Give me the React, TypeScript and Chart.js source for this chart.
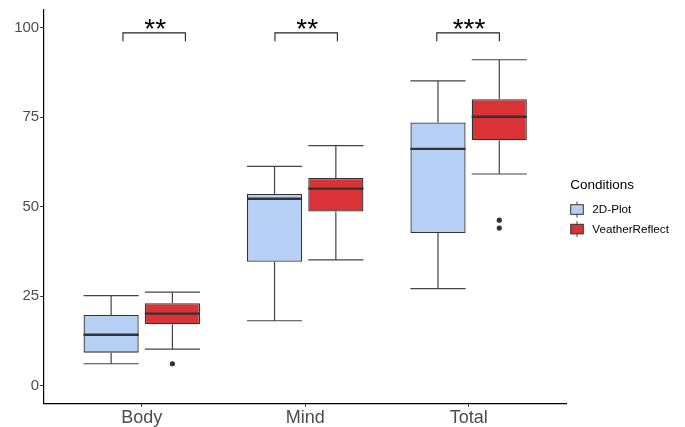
import React, { useEffect, useRef } from 'react';
import { Chart, registerables } from 'chart.js';
Chart.register(...registerables);

const categories = ['Body', 'Mind', 'Total'];
const seriesNames = ['2D-Plot', 'VeatherReflect'];
const seriesColors = ['#B6CFF5', '#DA3337'];

const plotMin = [6.1, 18.1, 27.1];
const plotQ1 = [9.2, 34.6, 42.6];
const plotMedian = [14.2, 52.2, 66.1];
const plotQ3 = [19.7, 53.5, 73.5];
const plotMax = [25.1, 61.2, 85.1];
const plotOutliers: number[][] = [[], [], []];

const vrMin = [10.2, 35.1, 59.1];
const vrQ1 = [17.1, 48.6, 68.5];
const vrMedian = [20.1, 55.0, 75.1];
const vrQ3 = [23.0, 58.0, 80.0];
const vrMax = [26.1, 67.0, 91.0];
const vrOutliers: number[][] = [[6.1], [], [46.2, 44.0]];

const yTicks = [0, 25, 50, 75, 100];

const sigLabels = ['**', '**', '***'];
const sigStart = [0.885, 1.815, 2.805];
const sigEnd = [1.267, 2.197, 3.188];
const sigTop = 98.5;
const sigTip = 96.2;
const sigText = 97.2;

const DODGE = 0.75;
const FONT = "'Liberation Sans', Arial, Helvetica, sans-serif";

const stats = [
  { min: plotMin, q1: plotQ1, med: plotMedian, q3: plotQ3, max: plotMax, out: plotOutliers },
  { min: vrMin, q1: vrQ1, med: vrMedian, q3: vrQ3, max: vrMax, out: vrOutliers },
];

const boxPlugin = {
  id: 'boxParts',
  beforeDatasetsDraw(chart: any) {
    const ctx = chart.ctx;
    const y = chart.scales.y;
    ctx.save();
    ctx.strokeStyle = '#444';
    ctx.lineWidth = 1.2;
    stats.forEach((s, d) => {
      const meta = chart.getDatasetMeta(d);
      meta.data.forEach((bar: any, i: number) => {
        const cx = bar.x;
        const hw = bar.width / 2;
        const pMax = y.getPixelForValue(s.max[i]);
        const pMin = y.getPixelForValue(s.min[i]);
        const pQ1 = y.getPixelForValue(s.q1[i]);
        const pQ3 = y.getPixelForValue(s.q3[i]);
        ctx.beginPath();
        ctx.moveTo(cx, pQ3); ctx.lineTo(cx, pMax);
        ctx.moveTo(cx, pQ1); ctx.lineTo(cx, pMin);
        ctx.moveTo(cx - hw, pMax); ctx.lineTo(cx + hw, pMax);
        ctx.moveTo(cx - hw, pMin); ctx.lineTo(cx + hw, pMin);
        ctx.stroke();
      });
    });
    ctx.restore();
  },
  afterDatasetsDraw(chart: any) {
    const ctx = chart.ctx;
    const y = chart.scales.y;
    const x = chart.scales.x;
    ctx.save();
    ctx.strokeStyle = '#333';
    ctx.lineWidth = 2.4;
    stats.forEach((s, d) => {
      const meta = chart.getDatasetMeta(d);
      meta.data.forEach((bar: any, i: number) => {
        const hw = bar.width / 2;
        const pm = y.getPixelForValue(s.med[i]);
        ctx.beginPath();
        ctx.moveTo(bar.x - hw, pm); ctx.lineTo(bar.x + hw, pm);
        ctx.stroke();
      });
    });
    // significance brackets
    ctx.strokeStyle = '#222';
    ctx.lineWidth = 1.1;
    ctx.fillStyle = '#000';
    ctx.font = `28px ${FONT}`;
    ctx.textAlign = 'center';
    ctx.textBaseline = 'alphabetic';
    sigLabels.forEach((lab, i) => {
      const x0 = x.getPixelForValue(sigStart[i]);
      const x1 = x.getPixelForValue(sigEnd[i]);
      const yt = y.getPixelForValue(sigTop);
      const yb = y.getPixelForValue(sigTip);
      ctx.beginPath();
      ctx.moveTo(x0, yb); ctx.lineTo(x0, yt); ctx.lineTo(x1, yt); ctx.lineTo(x1, yb);
      ctx.stroke();
      ctx.fillText(lab, (x0 + x1) / 2 + 1, y.getPixelForValue(sigText));
    });
    ctx.restore();
  },
  afterDraw(chart: any) {
    const ctx = chart.ctx;
    ctx.save();
    ctx.fillStyle = '#000';
    ctx.textAlign = 'left';
    ctx.textBaseline = 'alphabetic';
    ctx.font = `13.5px ${FONT}`;
    const lx = chart.chartArea.right + 3.5;
    ctx.fillText('Conditions', lx, 189);
    seriesNames.forEach((name, k) => {
      const cy = 209.5 + k * 19.6;
      const kx = lx + 0.5;
      ctx.strokeStyle = '#444';
      ctx.lineWidth = 1;
      ctx.beginPath();
      ctx.moveTo(kx + 6.3, cy - 8); ctx.lineTo(kx + 6.3, cy + 8);
      ctx.stroke();
      ctx.fillStyle = seriesColors[k];
      ctx.fillRect(kx, cy - 4.8, 12.6, 9.6);
      ctx.strokeStyle = '#333';
      ctx.strokeRect(kx, cy - 4.8, 12.6, 9.6);
      ctx.fillStyle = '#000';
      ctx.font = `11.7px ${FONT}`;
      ctx.textBaseline = 'middle';
      ctx.fillText(name, 592.3, cy + 0.5);
      ctx.textBaseline = 'alphabetic';
    });
    ctx.restore();
  },
};

export default function App() {
  const ref = useRef<HTMLCanvasElement>(null);
  useEffect(() => {
    if (!ref.current) return;
    const barSets = stats.map((s, d) => ({
      type: 'bar' as const,
      label: seriesNames[d],
      data: categories.map((_, i) => ({ x: i + 1, y: [s.q1[i], s.q3[i]] })),
      backgroundColor: seriesColors[d],
      borderColor: '#333',
      borderWidth: 1.3,
      borderSkipped: false,
      categoryPercentage: DODGE,
      barPercentage: 0.9,
      grouped: true,
    }));
    const outSets = stats.map((s, d) => ({
      type: 'scatter' as const,
      label: seriesNames[d] + ' outliers',
      data: s.out.flatMap((vals, i) =>
        vals.map((v) => ({ x: i + 1 + (d === 0 ? -DODGE / 4 : DODGE / 4), y: v }))
      ),
      pointRadius: 2.6,
      pointBackgroundColor: '#333',
      pointBorderColor: '#333',
      pointBorderWidth: 0,
    }));
    const chart = new Chart(ref.current, {
      type: 'bar',
      data: { datasets: [...barSets, ...outSets] as any },
      options: {
        animation: false,
        responsive: true,
        maintainAspectRatio: false,
        layout: { padding: { top: 10, right: 118.3, left: 0, bottom: 0 } },
        plugins: { legend: { display: false }, tooltip: { enabled: false } },
        scales: {
          x: {
            type: 'linear',
            min: 0.4,
            max: 3.6,
            offset: false,
            afterBuildTicks: (s: any) => { s.ticks = [1, 2, 3].map((v) => ({ value: v })); },
            afterFit: (s: any) => { s.height = 23.7; },
            ticks: {
              callback: (v: any) => categories[Math.round(Number(v)) - 1],
              color: '#4D4D4D',
              font: { family: FONT, size: 18 },
              padding: 0,
              maxRotation: 0,
              autoSkip: false,
            },
            grid: { display: true, offset: false, drawOnChartArea: false, drawTicks: true, tickLength: 3.5, color: '#333', lineWidth: 1 },
            border: { display: true, color: '#000', width: 1.2 },
          },
          y: {
            type: 'linear',
            min: -4.95,
            max: 104.9,
            afterBuildTicks: (s: any) => { s.ticks = yTicks.map((v) => ({ value: v })); },
            afterFit: (s: any) => { s.width = 43.7; },
            ticks: {
              color: '#4D4D4D',
              font: { family: FONT, size: 15 },
              padding: 1,
            },
            grid: { display: true, drawOnChartArea: false, drawTicks: true, tickLength: 3.5, color: '#333', lineWidth: 1 },
            border: { display: true, color: '#000', width: 1.2 },
          },
        },
      },
      plugins: [boxPlugin],
    });
    return () => chart.destroy();
  }, []);
  return (
    <div style={{ position: 'fixed', left: 0, top: 0, width: 685, height: 427, background: '#fff' }}>
      <canvas ref={ref} />
    </div>
  );
}
